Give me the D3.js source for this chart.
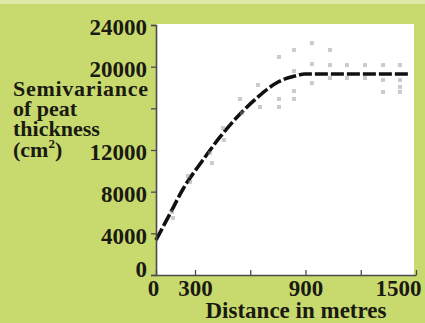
<!DOCTYPE html>
<html>
<head>
<meta charset="utf-8">
<script src="https://cdn.jsdelivr.net/npm/d3@7"></script>
<style>
  body { margin:0; padding:0; background:#c8da6e; }
  svg { display:block; }
  text { font-family:"Liberation Serif","DejaVu Serif",serif; font-weight:bold; fill:#1a1a12; }
</style>
</head>
<body>
<div id="chart"></div>
<script>
/////////////////////////global variables/////////////////////////////
var wdim = 425, hdim = 323;
var plot = {left:156, right:414, top:24, bottom:275};
var canvas;

// axis ticks
var yTicks = [0, 4000, 8000, 12000, 16000, 20000, 24000];
var yTickLabels = ["0", "4000", "8000", "12000", "", "20000", "24000"];
var xTicks = [0, 300, 600, 900, 1200, 1500];
var xTickLabels = ["0", "300", "", "900", "", "1500"];

// fitted model
var modelDist  = [0, 100, 208, 343, 436, 555, 642, 751, 843, 897, 1000, 1200, 1457];
var modelGamma = [3360, 5700, 8256, 11040, 13250, 15650, 17090, 18530, 19100, 19300, 19300, 19300, 19300];

// experimental semivariances (small grey marks)
var ptDist  = [123, 131, 246, 262, 381, 392, 457, 452, 544, 555, 642, 653, 756, 756, 756,
               838, 838, 838, 838, 935, 935, 935, 1033, 1033, 1033, 1125, 1125, 1223, 1223,
               1321, 1321, 1321, 1413, 1413, 1413, 1413];
var ptGamma = [6048, 5470, 9504, 8930, 11710, 10750, 12960, 14110, 16900, 15550, 18240, 16130, 20930, 16900, 16130,
               21600, 19580, 17660, 16900, 22270, 20260, 18430, 21600, 20160, 18910, 20160, 18910, 20160, 18910,
               20160, 18720, 17570, 20160, 18720, 18050, 17570];

var yLabelLines = ["Semivariance", "of peat", "thickness"];
var xTitle = "Distance in metres";

// the first 300 m of the original axis are squeezed, so use a two piece scale
var x = d3.scaleLinear().domain([0, 300, 1500]).range([plot.left, 195, plot.right + 2]);
var y = d3.scaleLinear().domain([0, 24000]).range([plot.bottom, plot.top + 1]);

/////////////////////build svg//////////////////////
function build_canvas(){
	var svg = d3.select("#chart").append("svg")
		.attr("width", wdim)
		.attr("height", hdim);
	svg.append("rect").attr("width", wdim).attr("height", hdim).attr("fill", "#c8da6e");
	svg.append("rect").attr("width", wdim).attr("height", 4).attr("fill", "#dce8a6");
	svg.append("rect")
		.attr("x", plot.left).attr("y", plot.top)
		.attr("width", plot.right - plot.left).attr("height", plot.bottom - plot.top)
		.attr("fill", "#ffffff");
	return svg;
}

function draw_axes(){
	var yAxis = d3.axisLeft(y).tickValues(yTicks)
		.tickFormat(function(d, i){ return yTickLabels[i]; })
		.tickSize(5).tickPadding(4);
	var gy = canvas.append("g").attr("transform", "translate(" + plot.left + ",0)").call(yAxis);
	gy.selectAll("text").attr("font-size", "23px").attr("dy", "0.38em")
		.attr("y", function(d){ return d === 0 ? -7 : 1; });

	var xAxis = d3.axisBottom(x).tickValues(xTicks)
		.tickFormat(function(d, i){ return xTickLabels[i]; })
		.tickSize(0).tickPadding(4);
	var gx = canvas.append("g").attr("transform", "translate(0," + plot.bottom + ")").call(xAxis);
	gx.selectAll("text").attr("font-size", "23px").attr("dy", "0.72em")
		.attr("text-anchor", function(d){ return d === 1500 ? "end" : "middle"; })
		.attr("x", function(d){ return d === 1500 ? 5 : (d === 0 ? -3 : 0); });
	// inward ticks on the distance axis
	gx.selectAll(".tick line").attr("y2", -5);

	canvas.selectAll(".domain").attr("stroke", "#4a4a4a").attr("stroke-width", 1.6);
	canvas.selectAll(".tick line").attr("stroke", "#4a4a4a").attr("stroke-width", 1.3);

	// y title, packed tight like the original
	canvas.append("g").selectAll("text").data(yLabelLines).enter().append("text")
		.attr("x", 13).attr("y", function(d, i){ return 96 + i * 20; })
		.attr("font-size", "22px").attr("textLength", function(d, i){ return i === 0 ? 135 : null; })
		.text(function(d){ return d; });
	var unit = canvas.append("text").attr("x", 13).attr("y", 157).attr("font-size", "22px");
	unit.append("tspan").text("(cm");
	unit.append("tspan").attr("font-size", "13px").attr("dy", -9).text("2");
	unit.append("tspan").attr("dy", 9).text(")");

	canvas.append("text").attr("x", 296).attr("y", 318)
		.attr("text-anchor", "middle").attr("font-size", "23px").text(xTitle);
}

function draw_curve(){
	var line = d3.line()
		.x(function(d){ return x(d[0]); })
		.y(function(d){ return y(d[1]); })
		.curve(d3.curveMonotoneX);
	canvas.append("path")
		.datum(d3.zip(modelDist, modelGamma))
		.attr("d", line)
		.attr("fill", "none")
		.attr("stroke", "#111")
		.attr("stroke-width", 3.6)
		.attr("stroke-dasharray", "13,3");
}

function draw_points(){
	var pts = canvas.append("g").selectAll("g").data(d3.zip(ptDist, ptGamma)).enter()
		.append("g")
		.attr("transform", function(d){ return "translate(" + x(d[0]) + "," + y(d[1]) + ")"; });
	pts.append("path")
		.attr("d", "M-2,-1H2M-2,1H2")
		.attr("stroke", "#8c8c8c")
		.attr("stroke-width", 0.9)
		.attr("fill", "none");
}

/////////////////////// MAIN //////////////////////////////////////
function main(){
	canvas = build_canvas();
	draw_curve();
	draw_points();
	draw_axes();
}

main();
</script>
</body>
</html>
